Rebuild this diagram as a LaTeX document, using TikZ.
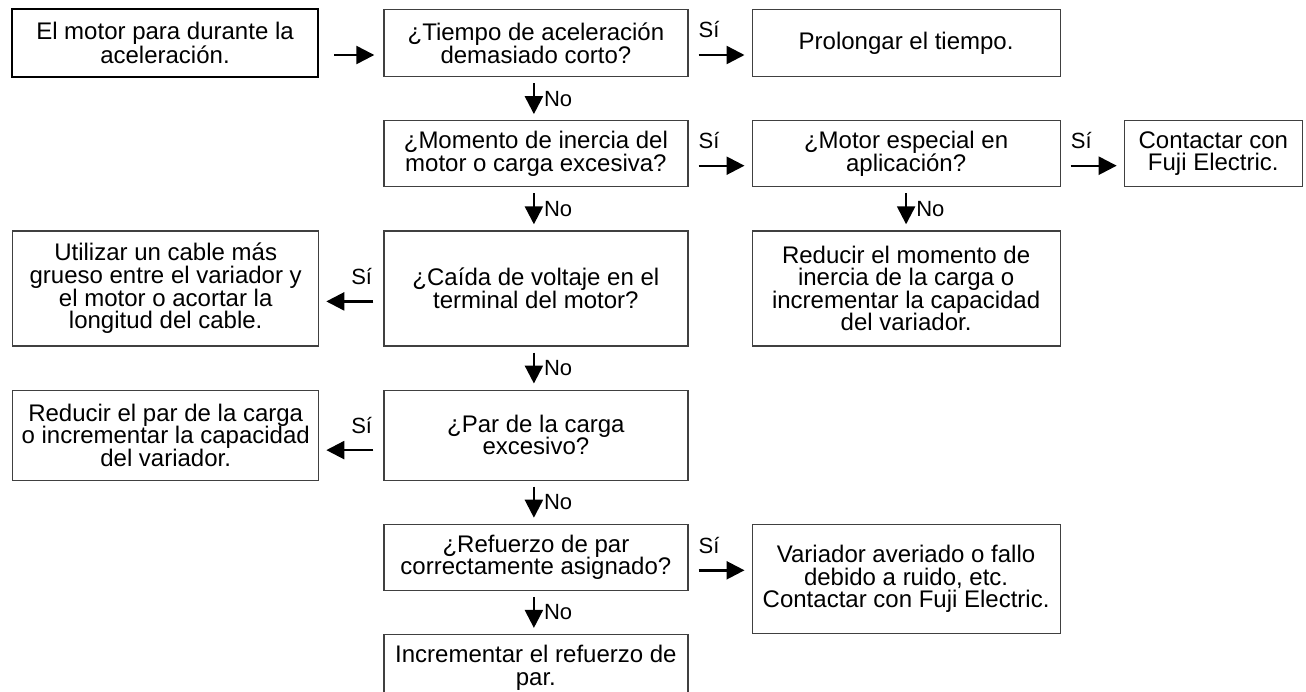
\documentclass[tikz,border=0pt]{standalone}
\usepackage{fontspec}
\setmainfont{Liberation Sans}
\usetikzlibrary{positioning,arrows.meta}

\begin{document}
\begin{tikzpicture}[
    x=1pt, y=-1pt,
    node distance=43pt and 63pt,
    box/.style={
        draw=black!75,
        line width=1.2pt,
        align=center,
        inner sep=2pt,
        font=\fontsize{24}{22.6}\selectfont
    },
    startbox/.style={box, draw=black, line width=2.6pt},
    colA/.style={minimum width=306pt},
    colB/.style={minimum width=304pt},
    colC/.style={minimum width=308pt},
    arrow/.style={-{Triangle[length=18pt,width=18pt]}, line width=2.4pt},
    siarrow/.style={arrow, shorten <=10pt, shorten >=7pt},
    noarrow/.style={arrow, shorten <=6pt, shorten >=6pt},
    yes/.style={anchor=west, inner sep=0pt, xshift=9pt, yshift=25pt,
        font=\fontsize{22}{22}\selectfont},
    yesleft/.style={anchor=east, inner sep=0pt, xshift=-10pt, yshift=25pt,
        font=\fontsize{22}{22}\selectfont},
    no/.style={midway, anchor=west, inner sep=0pt, xshift=9pt,
        font=\fontsize{22}{22}\selectfont}
]
\useasboundingbox (0,0) rectangle (1306,691);
\clip (0,0) rectangle (1306,691);

\node[startbox, colA, minimum height=68pt] (start) at (165,43)
{El motor para durante la\\aceleración.};

% main column
\node[box, colB, minimum height=67pt, right=64pt of start] (tiempo)
{¿Tiempo de aceleración\\demasiado corto?};
\node[box, colB, minimum height=66pt, below=of tiempo] (inercia)
{¿Momento de inercia del\\motor o carga excesiva?};
\node[box, colB, minimum height=115pt, below=of inercia] (caida)
{¿Caída de voltaje en el\\terminal del motor?};
\node[box, colB, minimum height=90pt, below=of caida] (par)
{¿Par de la carga\\excesivo?};
\node[box, colB, minimum height=66pt, below=of par] (refuerzo)
{¿Refuerzo de par\\correctamente asignado?};
\node[box, colB, minimum height=67pt, below=of refuerzo] (increm)
{Incrementar el refuerzo de\\par.};

% right side
\node[box, colC, minimum height=67pt, right=of tiempo] (prolongar)
{Prolongar el tiempo.};
\node[box, colC, minimum height=66pt, right=of inercia] (especial)
{¿Motor especial en\\aplicación?};
\node[box, minimum width=178pt, minimum height=66pt, right=of especial] (fuji)
{Contactar con\\Fuji Electric.};
\node[box, colC, minimum height=115pt, below=of especial] (reducinercia)
{Reducir el momento de\\inercia de la carga o\\incrementar la capacidad\\del variador.};
\node[box, colC, minimum height=109pt, right=63pt of refuerzo.north east, anchor=north west] (averiado)
{Variador averiado o fallo\\debido a ruido, etc.\\Contactar con Fuji Electric.};

% left side
\node[box, colA, minimum height=115pt, left=64pt of caida] (cable)
{Utilizar un cable más\\grueso entre el variador y\\el motor o acortar la\\longitud del cable.};
\node[box, colA, minimum height=90pt, left=64pt of par] (reducpar)
{Reducir el par de la carga\\o incrementar la capacidad\\del variador.};

% connectors
\draw[arrow, shorten <=15pt, shorten >=9pt] ([yshift=-12pt]start.east) -- ([yshift=-12pt]start.east -| tiempo.west);

\draw[siarrow] ([yshift=-12pt]tiempo.east) node[yes]{Sí} -- ([yshift=-12pt]tiempo.east -| prolongar.west);
\draw[siarrow] ([yshift=-12pt]inercia.east) node[yes]{Sí} -- ([yshift=-12pt]inercia.east -| especial.west);
\draw[siarrow] ([yshift=-12pt]especial.east) node[yes]{Sí} -- ([yshift=-12pt]especial.east -| fuji.west);
\draw[siarrow] ([yshift=-13pt]refuerzo.east) node[yes]{Sí} -- ([yshift=-13pt]refuerzo.east -| averiado.west);

\draw[siarrow] ([yshift=-13pt]caida.west) node[yesleft]{Sí} -- ([yshift=-13pt]caida.west -| cable.east);
\draw[siarrow] ([yshift=-15pt]par.west) node[yesleft]{Sí} -- ([yshift=-15pt]par.west -| reducpar.east);

\draw[noarrow] ([xshift=-2pt]tiempo.south) -- node[no]{No} ([xshift=-2pt]inercia.north);
\draw[noarrow] ([xshift=-2pt]inercia.south) -- node[no]{No} ([xshift=-2pt]caida.north);
\draw[noarrow] ([xshift=-2pt]caida.south) -- node[no]{No} ([xshift=-2pt]par.north);
\draw[noarrow] ([xshift=-2pt]par.south) -- node[no]{No} ([xshift=-2pt]refuerzo.north);
\draw[noarrow] ([xshift=-2pt]refuerzo.south) -- node[no]{No} ([xshift=-2pt]increm.north);
\draw[noarrow] (especial) -- node[no]{No} (reducinercia);

\end{tikzpicture}
\end{document}
